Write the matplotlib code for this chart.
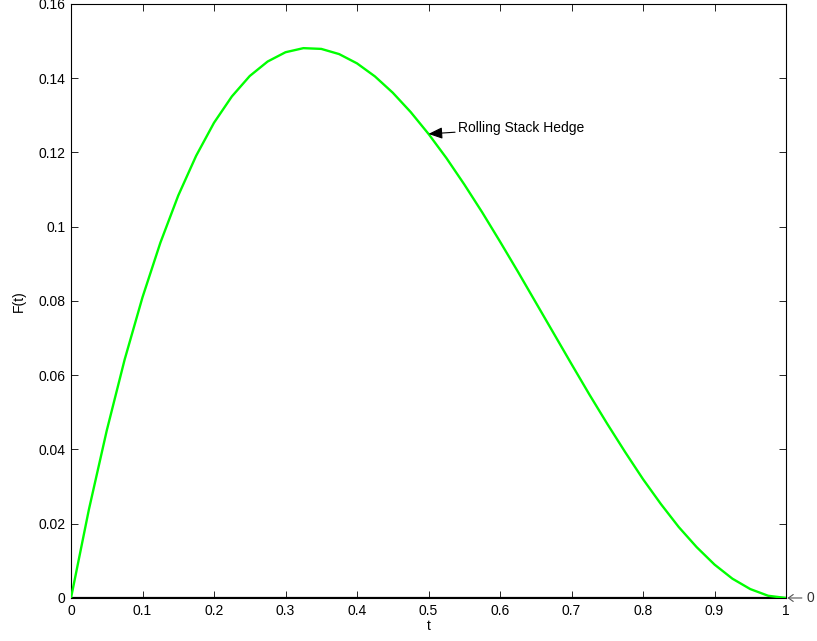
import matplotlib
matplotlib.use("Agg")
import matplotlib.pyplot as plt

plt.rcParams['font.family'] = ['Liberation Sans', 'DejaVu Sans']

# values
t = [0, 0.025, 0.05, 0.075, 0.1, 0.125, 0.15, 0.175, 0.2, 0.225,
     0.25, 0.275, 0.3, 0.325, 0.35, 0.375, 0.4, 0.425, 0.45, 0.475,
     0.5, 0.525, 0.55, 0.575, 0.6, 0.625, 0.65, 0.675, 0.7, 0.725,
     0.75, 0.775, 0.8, 0.825, 0.85, 0.875, 0.9, 0.925, 0.95, 0.975, 1.0]
F = [0, 0.0238, 0.0451, 0.0642, 0.081, 0.0957, 0.1084, 0.1191, 0.128, 0.1351,
     0.1406, 0.1445, 0.147, 0.1481, 0.1479, 0.1465, 0.144, 0.1405, 0.1361, 0.1309,
     0.125, 0.1185, 0.1114, 0.1039, 0.096, 0.0879, 0.0796, 0.0713, 0.063, 0.0548,
     0.0469, 0.0393, 0.032, 0.0253, 0.0191, 0.0137, 0.009, 0.0052, 0.0024, 0.0006, 0]

xticks = [0, 0.1, 0.2, 0.3, 0.4, 0.5, 0.6, 0.7, 0.8, 0.9, 1]
xticklabels = ['0', '0.1', '0.2', '0.3', '0.4', '0.5', '0.6', '0.7', '0.8', '0.9', '1']
yticks = [0, 0.02, 0.04, 0.06, 0.08, 0.1, 0.12, 0.14, 0.16]
yticklabels = ['0', '0.02', '0.04', '0.06', '0.08', '0.1', '0.12', '0.14', '0.16']

fig = plt.figure(figsize=(8.17, 6.41), dpi=100)
ax = fig.add_axes([0.0869, 0.0671, 0.8752, 0.9267])

ax.plot([0, 1], [0, 0], color='black', lw=1.6, zorder=2)
ax.plot(t, F, color='#00ff00', lw=1.7, zorder=3, solid_joinstyle='round')

ax.set_xlim(0, 1)
ax.set_ylim(0, 0.16)
ax.set_xticks(xticks)
ax.set_xticklabels(xticklabels)
ax.set_yticks(yticks)
ax.set_yticklabels(yticklabels)
ax.tick_params(direction='in', top=True, right=True, labelsize=10, length=5, width=0.6, pad=4)
for s in ax.spines.values():
    s.set_linewidth(0.8)

ax.set_xlabel('t', fontsize=10, labelpad=1)
ax.set_ylabel('F(t)', fontsize=10, labelpad=9)

ax.annotate('Rolling Stack Hedge', xy=(0.5, 0.125), xytext=(0.541, 0.1266),
            fontsize=10, va='center', ha='left',
            arrowprops=dict(arrowstyle='-|>,head_length=0.6,head_width=0.25',
                            color='black', lw=0.8,
                            mutation_scale=14, shrinkA=0, shrinkB=0))
ax.annotate('0', xy=(1.0, 0.0), xytext=(1.028, 0.0),
            fontsize=10, va='center', ha='left', color='#333333',
            annotation_clip=False,
            arrowprops=dict(arrowstyle='->,head_length=0.35,head_width=0.25',
                            color='#555555', lw=0.8, shrinkA=1, shrinkB=1))

fig.savefig('out.png', dpi=100)
